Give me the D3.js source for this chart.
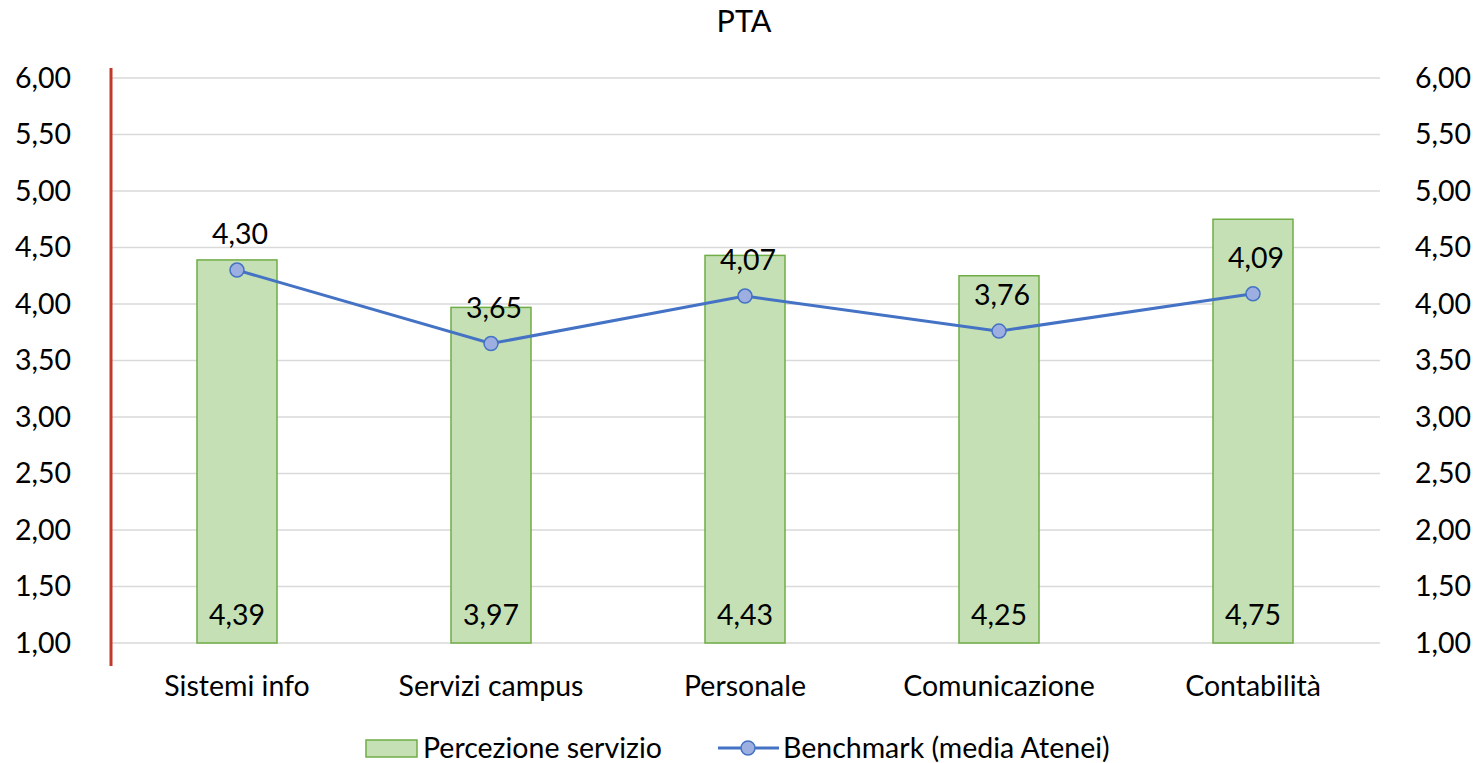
<!DOCTYPE html>
<html>
<head>
    <meta charset="utf-8">
    <title>PTA</title>
    <script src="https://d3js.org/d3.v7.min.js"></script>
    <style>
        body { margin: 0; background: #fff; }
        text { font-family: "Lato", "Open Sans", sans-serif; fill: #000; }
    </style>
</head>
<body>
    <svg width="1478" height="763"></svg>

    <script>
        // data
        const categories = ["Sistemi info", "Servizi campus", "Personale", "Comunicazione", "Contabilità"];
        const percezione = [4.39, 3.97, 4.43, 4.25, 4.75];
        const benchmark = [4.30, 3.65, 4.07, 3.76, 4.09];
        const ticks = [1.0, 1.5, 2.0, 2.5, 3.0, 3.5, 4.0, 4.5, 5.0, 5.5, 6.0];

        const fmt = (v) => v.toFixed(2).replace(".", ",");
        const fs = "28.5px";

        const svg = d3.select("svg");
        const plotLeft = 110, plotRight = 1380, plotTop = 78, plotBottom = 643;

        const x = d3.scaleBand().domain(categories).range([plotLeft, plotRight]).paddingInner(0.685).paddingOuter(0.3425);
        const y = d3.scaleLinear().domain([1, 6]).range([plotBottom, plotTop]);

        // gridlines
        svg.append("g")
            .selectAll("line")
            .data(ticks)
            .enter()
            .append("line")
            .attr("x1", plotLeft)
            .attr("x2", plotRight)
            .attr("y1", (d) => y(d))
            .attr("y2", (d) => y(d))
            .attr("stroke", "#d9d9d9")
            .attr("stroke-width", 1.5);

        // left tick labels
        svg.append("g")
            .selectAll("text")
            .data(ticks)
            .enter()
            .append("text")
            .attr("x", 71)
            .attr("y", (d) => y(d))
            .attr("dy", "0.35em")
            .attr("text-anchor", "end")
            .style("font-size", fs)
            .text(fmt);

        // right tick labels
        svg.append("g")
            .selectAll("text")
            .data(ticks)
            .enter()
            .append("text")
            .attr("x", 1471)
            .attr("y", (d) => y(d))
            .attr("dy", "0.35em")
            .attr("text-anchor", "end")
            .style("font-size", fs)
            .text(fmt);

        // bars
        svg.append("g")
            .selectAll("rect")
            .data(percezione)
            .enter()
            .append("rect")
            .attr("x", (d, i) => x(categories[i]))
            .attr("y", (d) => y(d))
            .attr("width", x.bandwidth())
            .attr("height", (d) => y(1) - y(d))
            .attr("fill", "#c5e0b4")
            .attr("stroke", "#70ad47")
            .attr("stroke-width", 1.5);

        // bar labels (inside base)
        svg.append("g")
            .selectAll("text")
            .data(percezione)
            .enter()
            .append("text")
            .attr("x", (d, i) => x(categories[i]) + x.bandwidth() / 2)
            .attr("y", y(1) - 18)
            .attr("text-anchor", "middle")
            .style("font-size", fs)
            .text(fmt);

        // red left axis line
        svg.append("line")
            .attr("x1", plotLeft + 1)
            .attr("x2", plotLeft + 1)
            .attr("y1", 68)
            .attr("y2", 666)
            .attr("stroke", "#c0392b")
            .attr("stroke-width", 3);

        // category labels
        svg.append("g")
            .selectAll("text")
            .data(categories)
            .enter()
            .append("text")
            .attr("x", (d) => x(d) + x.bandwidth() / 2)
            .attr("y", 696)
            .attr("text-anchor", "middle")
            .style("font-size", fs)
            .text((d) => d);

        // benchmark line
        const cx = (i) => x(categories[i]) + x.bandwidth() / 2;
        const line = d3.line().x((d, i) => cx(i)).y((d) => y(d));
        svg.append("path")
            .datum(benchmark)
            .attr("d", line)
            .attr("fill", "none")
            .attr("stroke", "#4472c4")
            .attr("stroke-width", 3);

        svg.append("g")
            .selectAll("circle")
            .data(benchmark)
            .enter()
            .append("circle")
            .attr("cx", (d, i) => cx(i))
            .attr("cy", (d) => y(d))
            .attr("r", 7)
            .attr("fill", "#9dafe0")
            .attr("stroke", "#4472c4")
            .attr("stroke-width", 1.5);

        svg.append("g")
            .selectAll("text")
            .data(benchmark)
            .enter()
            .append("text")
            .attr("x", (d, i) => cx(i) + 3)
            .attr("y", (d) => y(d) - 26)
            .attr("text-anchor", "middle")
            .style("font-size", fs)
            .text(fmt);

        // title
        svg.append("text")
            .attr("x", 744)
            .attr("y", 32)
            .attr("text-anchor", "middle")
            .style("font-size", "30.5px")
            .text("PTA");

        // legend
        const lg = svg.append("g");
        lg.append("rect")
            .attr("x", 366).attr("y", 740).attr("width", 51).attr("height", 17)
            .attr("fill", "#c5e0b4").attr("stroke", "#70ad47").attr("stroke-width", 1.5);
        lg.append("text")
            .attr("x", 423).attr("y", 758)
            .style("font-size", fs)
            .text("Percezione servizio");
        lg.append("line")
            .attr("x1", 718).attr("x2", 779).attr("y1", 748).attr("y2", 748)
            .attr("stroke", "#4472c4").attr("stroke-width", 3);
        lg.append("circle")
            .attr("cx", 748).attr("cy", 748).attr("r", 7)
            .attr("fill", "#9dafe0").attr("stroke", "#4472c4").attr("stroke-width", 1.5);
        lg.append("text")
            .attr("x", 783).attr("y", 758)
            .style("font-size", fs)
            .text("Benchmark (media Atenei)");
    </script>
</body>
</html>
